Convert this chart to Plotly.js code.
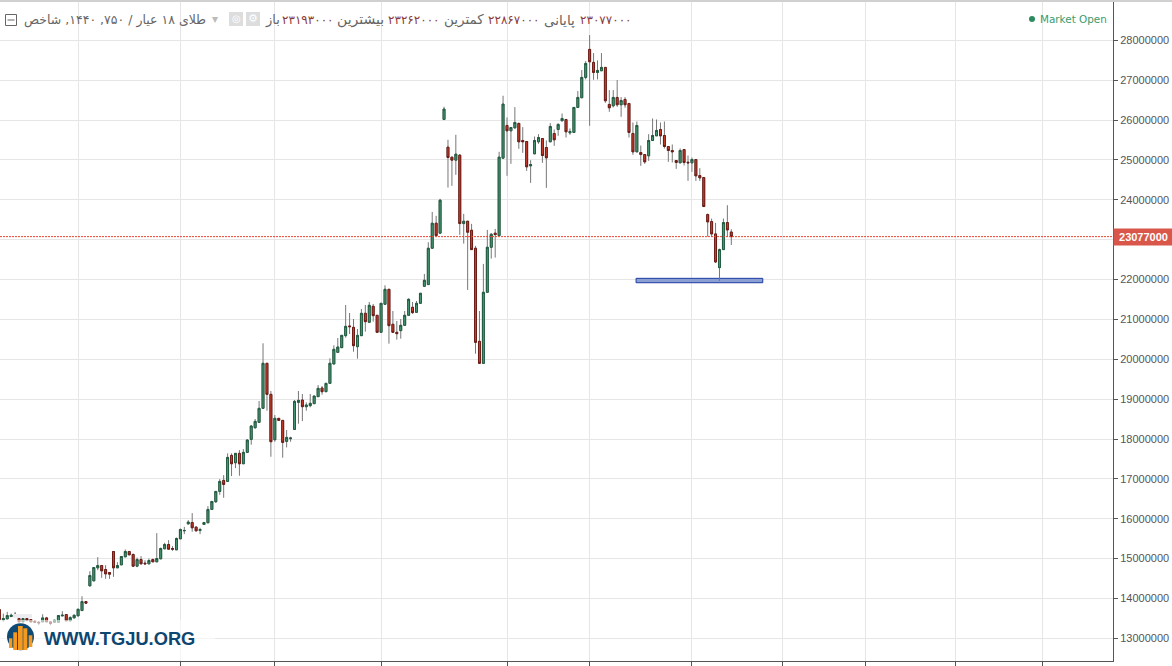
<!DOCTYPE html>
<html>
<head>
<meta charset="utf-8">
<title>طلای ۱۸ عیار</title>
<script src="https://cdn.plot.ly/plotly-3.0.1.min.js"></script>
<style>
  html, body { margin: 0; padding: 0; background: #fff; overflow: hidden; }
  #chart { width: 1172px; height: 664px; border-top: 2px solid #d0d0d0; }
</style>
</head>
<body>
<div id="chart"></div>
<script>
(function () {
  "use strict";

  // prices in thousands
  var OPENS = [
    13722, 13463, 13488, 13547, 13572, 13497, 13413, 13497, 13471, 13430,
    13405, 13413, 13513, 13413, 13405, 13405, 13563, 13597, 13438, 13513,
    13564, 13697, 13923, 14317, 14442, 14769, 14827, 14727, 14652, 15179,
    14769, 14844, 15045, 15179, 15104, 14811, 14978, 14886, 14869, 14978,
    14920, 14995, 15246, 15355, 15254, 15221, 15497, 15698, 15874, 15907,
    15790, 15706, 15857, 15899, 16234, 16426, 16686, 16962, 16937, 17589,
    17405, 17640, 17380, 17665, 17991, 18284, 18418, 18770, 19900, 19121,
    17983, 18519, 18468, 17941, 18008, 18242, 18920, 18979, 18811, 18837,
    18887, 19063, 19280, 19188, 19397, 19882, 20174, 20292, 20593, 20836,
    20802, 20317, 20593, 21154, 20928, 21330, 21104, 20677, 21380, 21756,
    20878, 20677, 20719, 20852, 21104, 21304, 21179, 21405, 21832, 21874,
    22786, 23414, 23163, 26017, 25322, 25071, 24996, 25121, 23405, 23464,
    23238, 22786, 20451, 19898, 21681, 22811, 23163, 23104, 25046, 25866,
    25732, 25807, 25916, 25489, 25464, 24853, 25154, 25456, 25539, 25313,
    25456, 25665, 25765, 25983, 26016, 25682, 25690, 26318, 26561, 27071,
    27774, 27448, 27196, 27238, 27322, 26393, 26359, 26569, 26385, 26519,
    26418, 25665, 25204, 25188, 25137, 25104, 25489, 25606, 25765, 25615,
    25338, 25238, 24987, 24928, 25263, 24945, 24928, 25012, 24610, 24560,
    23631, 23455, 23145, 22300, 22752, 23430, 23193
  ];
  var HIGHS = [
    13722, 13622, 13664, 13622, 13664, 13522, 13497, 13522, 13480, 13455,
    13430, 13605, 13538, 13430, 13455, 13572, 13681, 13597, 13555, 13597,
    13731, 14057, 13923, 14685, 14777, 15037, 14827, 14836, 14652, 15179,
    14911, 15053, 15229, 15179, 15129, 15028, 15062, 14961, 15003, 15003,
    15639, 15279, 15397, 15464, 15313, 15530, 15756, 15798, 15966, 16142,
    15815, 15773, 15907, 16317, 16434, 16686, 16995, 17096, 17640, 17640,
    17640, 17723, 17748, 18000, 18351, 18502, 18954, 20402, 19900, 19205,
    18602, 18519, 18468, 18226, 18058, 18979, 19205, 19130, 18920, 19130,
    19079, 19356, 19330, 19397, 20025, 20350, 20534, 20601, 21363, 21162,
    21012, 20760, 21263, 21363, 21438, 21388, 21104, 21405, 21857, 21756,
    21212, 20961, 21012, 21212, 21530, 21438, 21463, 21656, 22141, 22937,
    23698, 23598, 24025, 26335, 25506, 25071, 25632, 25146, 23648, 23464,
    23397, 22845, 21212, 22393, 23246, 23163, 23271, 25205, 26611, 26067,
    25815, 26326, 25941, 25824, 25464, 24995, 25589, 25648, 25539, 25489,
    25924, 25765, 25924, 26167, 26016, 25790, 26318, 26728, 27255, 27481,
    28134, 27682, 27498, 27682, 27322, 26753, 26753, 27004, 26577, 26577,
    26418, 25941, 25966, 25363, 25137, 25648, 26041, 26016, 25941, 25966,
    25338, 25389, 24987, 25290, 25263, 25112, 25062, 25012, 24794, 24560,
    23656, 23530, 23422, 22777, 23530, 23865, 23262
  ];
  var LOWS = [
    13471, 13413, 13488, 13538, 13555, 13413, 13413, 13446, 13405, 13405,
    13330, 13413, 13413, 13330, 13405, 13405, 13563, 13438, 13438, 13513,
    13564, 13697, 13865, 14317, 14442, 14710, 14518, 14493, 14493, 14543,
    14769, 14844, 15045, 15095, 14794, 14786, 14869, 14869, 14869, 14920,
    14920, 14995, 15246, 15237, 15196, 15221, 15497, 15614, 15849, 15673,
    15681, 15614, 15857, 15899, 16234, 16401, 16602, 16526, 16937, 17071,
    17271, 17079, 17380, 17665, 17857, 18259, 18418, 18770, 18711, 17556,
    17933, 18468, 17531, 17790, 17933, 18242, 18385, 18450, 18711, 18795,
    18887, 19063, 19113, 19188, 19397, 19882, 20174, 20292, 20543, 20635,
    20191, 20016, 20593, 20694, 20928, 20944, 20677, 20677, 21380, 20392,
    20677, 20493, 20518, 20852, 21087, 21137, 21179, 21405, 21832, 21874,
    22786, 23104, 23163, 26000, 24309, 24351, 24627, 23121, 22903, 21740,
    22752, 20141, 19898, 19898, 21681, 22526, 22552, 23104, 25046, 24602,
    24903, 25782, 25280, 25179, 24727, 24426, 25154, 25405, 24928, 24300,
    25456, 25355, 25606, 25983, 25564, 25631, 25690, 26318, 26561, 27021,
    25857, 27012, 27021, 27238, 26435, 26209, 26318, 26334, 26083, 26309,
    25564, 25129, 25204, 24853, 24903, 24978, 25489, 25606, 25389, 25288,
    24953, 24937, 24778, 24928, 24862, 24476, 24702, 24476, 24476, 23832,
    23078, 23070, 22417, 21965, 22752, 23070, 22867
  ];
  var CLOSES = [
    13471, 13497, 13572, 13580, 13605, 13413, 13497, 13446, 13413, 13405,
    13388, 13513, 13413, 13371, 13455, 13572, 13580, 13438, 13522, 13580,
    13731, 13923, 13882, 14576, 14777, 14827, 14694, 14618, 14610, 14769,
    14827, 15053, 15179, 15095, 14811, 14978, 14869, 14869, 14953, 14920,
    15003, 15254, 15355, 15237, 15237, 15505, 15731, 15706, 15916, 15773,
    15698, 15731, 15907, 16234, 16434, 16686, 16937, 16861, 17539, 17380,
    17640, 17380, 17665, 17974, 18326, 18443, 18770, 19900, 19121, 17933,
    18519, 18468, 17916, 18041, 18025, 18945, 18970, 18811, 18853, 18895,
    19079, 19272, 19188, 19397, 19900, 20250, 20308, 20601, 20827, 20819,
    20342, 20601, 21154, 20944, 21355, 21095, 20677, 21405, 21756, 20844,
    20677, 20643, 20852, 21104, 21505, 21171, 21405, 21656, 21982, 22786,
    23414, 23104, 23991, 26276, 25063, 24996, 25146, 23405, 23464, 23188,
    22752, 20426, 19898, 21681, 22811, 23137, 23129, 25071, 26402, 25732,
    25815, 25941, 25456, 25456, 24828, 24886, 25489, 25564, 25112, 25054,
    25841, 25506, 25891, 26041, 25707, 25715, 26318, 26569, 27071, 27422,
    27464, 27196, 27247, 27322, 26485, 26309, 26569, 26385, 26493, 26385,
    25690, 25204, 25866, 25137, 24953, 25489, 25615, 25740, 25606, 25338,
    25238, 25204, 24937, 25238, 24937, 24928, 25012, 24602, 24552, 23832,
    23447, 23145, 22442, 22752, 23430, 23246, 23077
  ];

  var X_TICKS = [20, 46, 70, 97, 129, 150, 176, 199, 220, 243, 265];
  var Y_TICKS = [
    13000000, 14000000, 15000000, 16000000, 17000000, 18000000, 19000000, 20000000,
    21000000, 22000000, 23000000, 24000000, 25000000, 26000000, 27000000, 28000000
  ];
  // 23000000 sits under the last price badge
  var Y_LABELS = [
    "13000000", "14000000", "15000000", "16000000", "17000000", "18000000", "19000000", "20000000",
    "21000000", "22000000", "", "24000000", "25000000", "26000000", "27000000", "28000000"
  ];
  var LAST_PRICE = 23077000;
  var ZONE_X = [161.8, 194];
  var ZONE_Y = [21921000, 22031000];

  var X_RANGE = [0.16, 283];
  var Y_RANGE = [12432000, 28963000];

  var PLOT_W = 1113;
  var PLOT_H = 659;

  var FA = "'DejaVu Sans', sans-serif";
  var AR = "'Liberation Sans', Arial, sans-serif";

  // header pieces: text, center pixel, size, colour
  var HEADER = [
    ["باز", 272, 13, "#666666"],
    ["۲۳۱۹۳۰۰۰", 308, 12, "#8a3a3a"],
    ["بیشترین", 360, 14, "#666666"],
    ["۲۳۲۶۲۰۰۰", 414, 12, "#8a3a3a"],
    ["کمترین", 464, 13.5, "#666666"],
    ["۲۲۸۶۷۰۰۰", 514, 12, "#8a3a3a"],
    ["پایانی", 559, 13.5, "#666666"],
    ["۲۳۰۷۷۰۰۰", 606, 12, "#8a3a3a"]
  ];

  function px(x) { return x / PLOT_W; }
  function py(y) { return 1 - (y - 2) / PLOT_H; }
  function scaled(list) { return list.map(function (v) { return v * 1000; }); }

  function paperRect(x0, y0, x1, y1, fill, line) {
    return {
      type: "rect", xref: "paper", yref: "paper",
      x0: px(x0), x1: px(x1), y0: py(y1), y1: py(y0),
      fillcolor: fill,
      line: line ? { color: line, width: 1 } : { width: 0 },
      layer: "above"
    };
  }

  function label(text, x, y, anchor, size, color, family, weight) {
    return {
      xref: "paper", yref: "paper", x: px(x), y: py(y),
      text: text, showarrow: false, xanchor: anchor, yanchor: "middle",
      borderpad: 0,
      font: { size: size, color: color, family: family, weight: weight || 400 }
    };
  }

  var index = OPENS.map(function (v, i) { return i; });
  var opens = scaled(OPENS);
  var closes = scaled(CLOSES);

  // plotly gives wick and border one colour, so wicks get their own trace below the bodies
  var wicks = {
    type: "candlestick", x: index,
    open: opens, high: scaled(HIGHS), low: scaled(LOWS), close: closes,
    whiskerwidth: 0,
    increasing: { line: { color: "#777777", width: 1 }, fillcolor: "#777777" },
    decreasing: { line: { color: "#777777", width: 1 }, fillcolor: "#777777" },
    showlegend: false, hoverinfo: "skip"
  };
  var bodies = {
    type: "candlestick", x: index,
    open: opens,
    high: opens.map(function (o, i) { return Math.max(o, closes[i]); }),
    low: opens.map(function (o, i) { return Math.min(o, closes[i]); }),
    close: closes,
    whiskerwidth: 0,
    increasing: { line: { color: "#1f5c40", width: 1 }, fillcolor: "#4b9c75" },
    decreasing: { line: { color: "#6e1a14", width: 1 }, fillcolor: "#d0402f" },
    showlegend: false
  };

  var shapes = [
    {
      type: "rect", xref: "x", yref: "y",
      x0: ZONE_X[0], x1: ZONE_X[1], y0: ZONE_Y[0], y1: ZONE_Y[1],
      fillcolor: "#8b9fd2", line: { color: "#1c3ca0", width: 1 }, layer: "between"
    },
    {
      type: "line", xref: "paper", yref: "y",
      x0: 0, x1: 1, y0: LAST_PRICE, y1: LAST_PRICE,
      line: { color: "#e8432e", width: 1, dash: "2px,1px" }, layer: "above"
    },
    // watermark haze and logo
    paperRect(0, 620, 215, 660, "rgba(255,255,255,0.6)"),
    paperRect(13, 614, 32, 618, "#ececf1"),
    {
      type: "circle", xref: "paper", yref: "paper",
      x0: px(7), x1: px(34), y0: py(650.3), y1: py(623.3),
      fillcolor: "#0f4a75", line: { width: 0 }, layer: "above"
    },
    paperRect(9, 638.3, 12.3, 648, "#f59a1e"),
    paperRect(13.3, 632.3, 17, 650, "#f59a1e"),
    paperRect(18, 626, 22.7, 650, "#f59a1e"),
    paperRect(23.3, 628.3, 27.3, 650, "#f59a1e"),
    paperRect(28.7, 635.3, 32.3, 647, "#f59a1e"),
    // header controls
    paperRect(5.5, 14.5, 16.5, 25.5, "#ffffff", "#666666"),
    {
      type: "line", xref: "paper", yref: "paper",
      x0: px(7.5), x1: px(14.5), y0: py(20), y1: py(20),
      line: { color: "#666666", width: 1 }, layer: "above"
    },
    paperRect(229, 12, 243, 26, "#dddddd"),
    paperRect(246, 12, 260, 26, "#dddddd"),
    // market open dot
    {
      type: "circle", xref: "paper", yref: "paper",
      x0: px(1029), x1: px(1035), y0: py(22), y1: py(16),
      fillcolor: "#2e8b5f", line: { width: 0 }, layer: "above"
    }
  ];

  var annotations = HEADER.map(function (h) {
    return label(h[0], h[1], 20, "center", h[2], h[3], FA);
  });
  annotations.push(label("طلای ۱۸ عیار / ۷۵۰, ۱۴۴۰, شاخص", 207, 20, "right", 12.5, "#666666", FA));
  annotations.push(label("▾", 215, 19, "center", 12, "#bbbbbb", FA));
  annotations.push(label("◎", 236, 19, "center", 10, "#ffffff", FA));
  annotations.push(label("⚙", 253, 19, "center", 11, "#ffffff", FA));
  annotations.push(label("Market Open", 1039, 19, "left", 10.4, "#3c9a6e", FA));
  annotations.push(label("WWW.TGJU.ORG", 43, 638, "left", 18.3, "#0d4670", AR, 700));
  annotations.push({
    xref: "paper", yref: "y", x: 1, y: LAST_PRICE,
    text: String(LAST_PRICE), showarrow: false,
    xanchor: "left", yanchor: "middle", align: "center",
    width: 59, height: 16, borderpad: 0,
    bgcolor: "#d9574a",
    font: { size: 11, color: "#ffffff", family: AR, weight: 700 }
  });

  var layout = {
    width: 1172,
    height: 664,
    margin: { l: 0, r: 59, t: 0, b: 5, pad: 0 },
    paper_bgcolor: "#ffffff",
    plot_bgcolor: "#ffffff",
    showlegend: false,
    xaxis: {
      type: "linear",
      range: X_RANGE,
      rangeslider: { visible: false },
      tickmode: "array",
      tickvals: X_TICKS,
      showticklabels: false,
      ticks: "outside",
      ticklen: 4,
      tickcolor: "#555555",
      showgrid: true,
      gridcolor: "#e6e6e6",
      gridwidth: 1,
      zeroline: false,
      showline: true,
      linecolor: "#555555",
      linewidth: 1
    },
    yaxis: {
      side: "right",
      range: Y_RANGE,
      tickmode: "array",
      tickvals: Y_TICKS,
      ticktext: Y_LABELS,
      ticks: "outside",
      ticklen: 4,
      tickcolor: "#555555",
      tickfont: { size: 11, color: "#555555", family: AR },
      showgrid: true,
      gridcolor: "#e6e6e6",
      gridwidth: 1,
      zeroline: false,
      showline: true,
      linecolor: "#555555",
      linewidth: 1
    },
    shapes: shapes,
    annotations: annotations
  };

  Plotly.newPlot("chart", [wicks, bodies], layout, { displayModeBar: false, responsive: false });
})();
</script>
</body>
</html>
